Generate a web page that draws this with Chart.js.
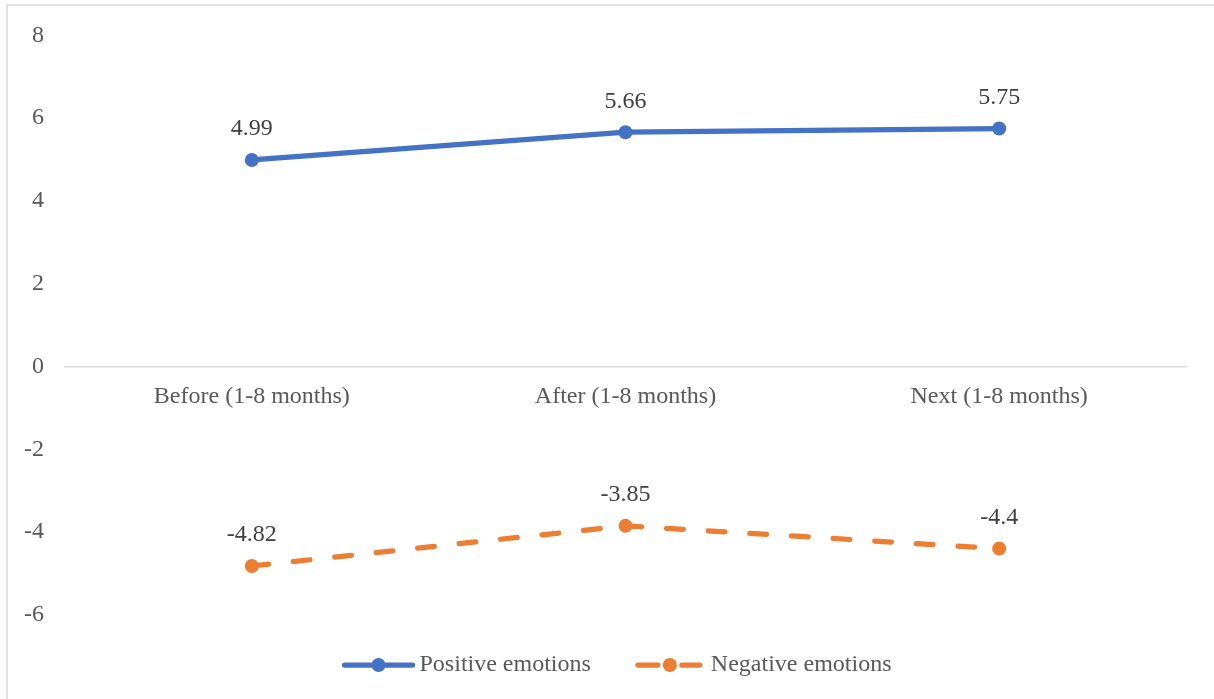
<!DOCTYPE html>
<html>
<head>
<meta charset="utf-8">
<script src="https://cdn.jsdelivr.net/npm/chart.js@4.4.1/dist/chart.umd.min.js"></script>
<style>
  html, body { margin: 0; padding: 0; background: #ffffff; overflow: hidden; }
  #wrap { position: relative; width: 1214px; height: 699px; overflow: hidden; }
  canvas { display: block; }
</style>
</head>
<body>
<div id="wrap"><canvas id="chart" width="1214" height="733"></canvas></div>
<script>
// Periods on the category axis
const categories = ['Before (1-8 months)', 'After (1-8 months)', 'Next (1-8 months)'];
// Mean emotion scores per period
const positiveEmotions = [4.99, 5.66, 5.75];
const negativeEmotions = [-4.82, -3.85, -4.4];
// Value axis range and tick spacing
const yMin = -8;
const yMax = 8;
const yStep = 2;

const FONT = '"Liberation Serif", "Times New Roman", serif';
const TEXT = '#595959';
const BLUE = '#4472C4';
const ORANGE = '#ED7D31';
const LINE_W = 5.25;
const DOT_R = 7;

// Light grey outer frame of the chart
const framePlugin = {
  id: 'frame',
  beforeDraw(chart) {
    const ctx = chart.ctx;
    ctx.save();
    ctx.strokeStyle = '#d9d9d9';
    ctx.lineWidth = 1.5;
    ctx.strokeRect(7, 5, chart.width + 20, chart.height + 20);
    ctx.restore();
  }
};

// Value labels drawn above each point
const valueLabels = {
  id: 'valueLabels',
  afterDatasetsDraw(chart) {
    const ctx = chart.ctx;
    ctx.save();
    ctx.font = '24px ' + FONT;
    ctx.fillStyle = '#404040';
    ctx.textAlign = 'center';
    ctx.textBaseline = 'middle';
    chart.data.datasets.forEach((ds, i) => {
      chart.getDatasetMeta(i).data.forEach((pt, j) => {
        ctx.fillText(String(ds.data[j]), pt.x, pt.y - 31);
      });
    });
    ctx.restore();
  }
};

// Legend laid inside the plot, centred near the bottom
const bottomLegend = {
  id: 'bottomLegend',
  afterDraw(chart) {
    const ctx = chart.ctx;
    const y = 665;
    ctx.save();
    ctx.font = '24px ' + FONT;
    ctx.textBaseline = 'middle';
    ctx.textAlign = 'left';
    ctx.lineCap = 'round';
    ctx.lineWidth = LINE_W;

    const items = chart.data.datasets.map(ds => ({
      label: ds.label, color: ds.borderColor, dashed: !!(ds.borderDash && ds.borderDash.length)
    }));
    const symW = 70, symGap = 6, itemGap = 44;
    let total = 0;
    items.forEach((it, k) => {
      total += symW + symGap + ctx.measureText(it.label).width + (k < items.length - 1 ? itemGap : 0);
    });
    let x = (chart.chartArea.left + chart.chartArea.right) / 2 - 8 - total / 2;

    items.forEach(it => {
      ctx.strokeStyle = it.color;
      ctx.fillStyle = it.color;
      ctx.beginPath();
      if (it.dashed) {
        ctx.moveTo(x + 3, y); ctx.lineTo(x + 23, y);
        ctx.moveTo(x + 47, y); ctx.lineTo(x + 65, y);
      } else {
        ctx.moveTo(x + 1, y); ctx.lineTo(x + symW - 1, y);
      }
      ctx.stroke();
      ctx.beginPath();
      ctx.arc(x + symW / 2, y, DOT_R, 0, Math.PI * 2);
      ctx.fill();
      x += symW + symGap;
      ctx.fillStyle = TEXT;
      ctx.fillText(it.label, x, y);
      x += ctx.measureText(it.label).width + itemGap;
    });
    ctx.restore();
  }
};

new Chart(document.getElementById('chart'), {
  type: 'line',
  data: {
    labels: categories,
    datasets: [
      {
        label: 'Positive emotions',
        data: positiveEmotions,
        borderColor: BLUE,
        backgroundColor: BLUE,
        borderWidth: LINE_W,
        borderCapStyle: 'round',
        pointRadius: DOT_R,
        pointHoverRadius: DOT_R,
        pointBackgroundColor: BLUE,
        pointBorderColor: BLUE,
        pointBorderWidth: 0,
        tension: 0
      },
      {
        label: 'Negative emotions',
        data: negativeEmotions,
        borderColor: ORANGE,
        backgroundColor: ORANGE,
        borderWidth: LINE_W,
        borderDash: [16.7, 25],
        borderCapStyle: 'round',
        pointRadius: DOT_R,
        pointHoverRadius: DOT_R,
        pointBackgroundColor: ORANGE,
        pointBorderColor: ORANGE,
        pointBorderWidth: 0,
        tension: 0
      }
    ]
  },
  options: {
    responsive: false,
    animation: false,
    events: [],
    layout: { padding: { top: 33, right: 28, bottom: 0, left: 0 } },
    plugins: {
      legend: { display: false },
      tooltip: { enabled: false },
      title: { display: false }
    },
    scales: {
      x: {
        type: 'category',
        offset: true,
        position: { y: 0 },
        afterFit(scale) { scale.height = 0; },
        grid: { display: false, drawTicks: false },
        border: { display: true, color: '#d9d9d9', width: 1.5 },
        ticks: {
          color: TEXT,
          padding: 16,
          maxRotation: 0,
          autoSkip: false,
          font: { family: FONT, size: 24 }
        }
      },
      y: {
        min: yMin,
        max: yMax,
        afterFit(scale) { scale.width = 65; },
        grid: { display: false, drawTicks: false },
        border: { display: false },
        ticks: {
          stepSize: yStep,
          color: TEXT,
          padding: 21,
          font: { family: FONT, size: 24 },
          callback: (v) => (v === yMin ? '' : v)
        }
      }
    }
  },
  plugins: [framePlugin, valueLabels, bottomLegend]
});
</script>
</body>
</html>
